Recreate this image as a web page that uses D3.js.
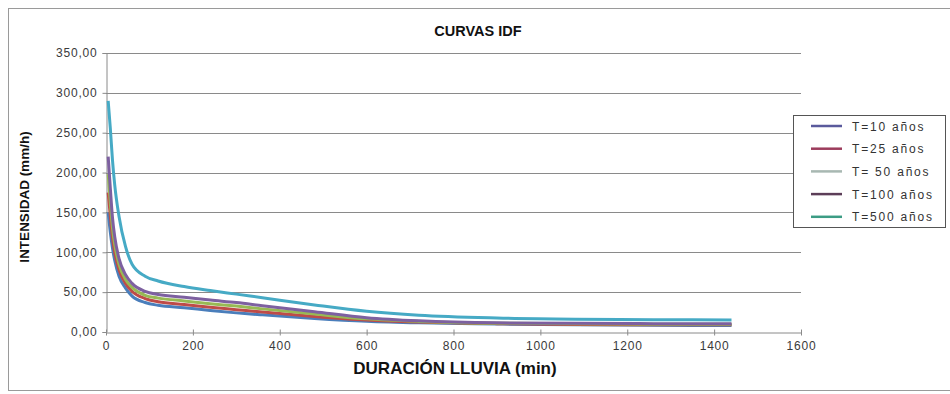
<!DOCTYPE html>
<html>
<head>
<meta charset="utf-8">
<script src="https://cdn.jsdelivr.net/npm/d3@7"></script>
<style>
  body { margin: 0; background: #fff; }
  svg { font-family: "Liberation Sans", Arial, sans-serif; }
</style>
</head>
<body>
<div id="chart"></div>
<script>
// durations (min)
const durations = [5, 10, 15, 20, 30, 45, 60, 90, 120, 180, 240, 300, 360, 480, 600, 720, 900, 1080, 1260, 1440];

// intensity (mm/h) per return period
const t10 = [150, 125, 105, 90, 70, 55, 45, 37, 33.5, 30.5, 27, 24, 21.5, 17, 13.5, 11.5, 10, 9, 8.5, 8];
const t25 = [175, 145, 118, 100, 78, 61, 51, 42, 38, 34.5, 31, 28, 25, 19.5, 15, 12.5, 10.5, 9.5, 9, 9];
const t50 = [198, 162, 130, 110, 85, 66, 56, 46, 42.5, 39, 35.5, 32.5, 29, 22.5, 16.5, 13.3, 11, 10.2, 9.8, 9.7];
const t100 = [220, 180, 143, 120, 92, 72, 61, 51, 47, 43.5, 40, 37, 33, 25.5, 18, 14, 11.5, 11, 10.5, 10.5];
const t500 = [290, 255, 215, 185, 145, 107, 85, 70, 64, 57, 52, 47.5, 43, 34, 26, 21, 17.5, 16, 15.5, 15];

const seriesNames = ['T=10 años', 'T=25 años', 'T= 50 años', 'T=100 años', 'T=500 años'];
const seriesColors = ['#4a7ebb', '#be4b48', '#98b954', '#7d60a0', '#46aac5'];
const legendColors = ['#5a5a9c', '#9c3c5c', '#a8b8b2', '#5c3e58', '#3c9c84'];

const xTicks = [0, 200, 400, 600, 800, 1000, 1200, 1400, 1600];
const yTicks = [0, 50, 100, 150, 200, 250, 300, 350];

const series = [t10, t25, t50, t100, t500].map((vals, i) => ({
  name: seriesNames[i],
  color: seriesColors[i],
  legend: legendColors[i],
  points: durations.map((d, j) => ({ x: d, y: vals[j] }))
}));

const width = 950;
const height = 394;
const plot = { left: 106, right: 801, top: 53, bottom: 332 };

const svg = d3.select('#chart')
  .append('svg')
  .attr('width', width)
  .attr('height', height);

// outer frame
svg.append('rect')
  .attr('x', 8.5).attr('y', 8.5)
  .attr('width', 960).attr('height', 382)
  .attr('fill', '#fff')
  .attr('stroke', '#9a9a9a');

const x = d3.scaleLinear().domain([0, 1600]).range([plot.left, plot.right]);
const y = d3.scaleLinear().domain([0, 350]).range([plot.bottom, plot.top]);

// gridlines
svg.append('g')
  .selectAll('line')
  .data(yTicks.slice(1))
  .join('line')
  .attr('x1', plot.left).attr('x2', plot.right)
  .attr('y1', d => Math.round(y(d)) + 0.5)
  .attr('y2', d => Math.round(y(d)) + 0.5)
  .attr('stroke', '#8a8a8a');

// y axis
const yAxis = svg.append('g')
  .attr('transform', `translate(${plot.left + 0.5},0)`)
  .call(d3.axisLeft(y).tickValues(yTicks).tickSize(4).tickPadding(5)
    .tickFormat(d => d3.format('.2f')(d).replace('.', ',')));

// x axis
const xAxis = svg.append('g')
  .attr('transform', `translate(0,${Math.round(y(0)) + 0.5})`)
  .call(d3.axisBottom(x).tickValues(xTicks).tickSize(3).tickPadding(6).tickSizeOuter(0)
    .tickFormat(d3.format('d')));
xAxis.selectAll('.tick line').attr('y1', -3);

[yAxis, xAxis].forEach(ax => {
  ax.select('.domain').attr('stroke', '#8a8a8a');
  ax.selectAll('.tick line').attr('stroke', '#8a8a8a');
  ax.selectAll('.tick text').attr('fill', '#3a3a3a')
    .style('font-size', '12px').style('letter-spacing', '0.8px');
});

// curves
const line = d3.line()
  .x(d => x(d.x))
  .y(d => y(d.y))
  .curve(d3.curveMonotoneX);

svg.append('g')
  .selectAll('path')
  .data(series)
  .join('path')
  .attr('d', d => line(d.points))
  .attr('fill', 'none')
  .attr('stroke', d => d.color)
  .attr('stroke-width', 3)
  .attr('stroke-linejoin', 'round');

// title
svg.append('text')
  .attr('x', 478).attr('y', 36)
  .attr('text-anchor', 'middle')
  .style('font-size', '14.5px').style('font-weight', 'bold')
  .attr('fill', '#111')
  .text('CURVAS IDF');

// axis titles
svg.append('text')
  .attr('x', 455).attr('y', 374)
  .attr('text-anchor', 'middle')
  .style('font-size', '17px').style('font-weight', 'bold')
  .attr('fill', '#111')
  .text('DURACIÓN LLUVIA (min)');

svg.append('text')
  .attr('transform', 'translate(29,197) rotate(-90)')
  .attr('text-anchor', 'middle')
  .style('font-size', '13.5px').style('font-weight', 'bold')
  .attr('fill', '#111')
  .text('INTENSIDAD (mm/h)');

// legend
const legend = svg.append('g');
legend.append('rect')
  .attr('x', 793.5).attr('y', 115.5)
  .attr('width', 152).attr('height', 112)
  .attr('fill', '#fff')
  .attr('stroke', '#555');

const rows = legend.selectAll('g.item')
  .data(series)
  .join('g')
  .attr('class', 'item')
  .attr('transform', (d, i) => `translate(0,${126 + i * 22.7})`);

rows.append('line')
  .attr('x1', 811).attr('x2', 842)
  .attr('stroke', d => d.legend)
  .attr('stroke-width', 2.5);

rows.append('text')
  .attr('x', 852).attr('y', 4.5)
  .style('font-size', '12px')
  .style('letter-spacing', '1.8px')
  .attr('fill', '#333')
  .text(d => d.name);
</script>
</body>
</html>
